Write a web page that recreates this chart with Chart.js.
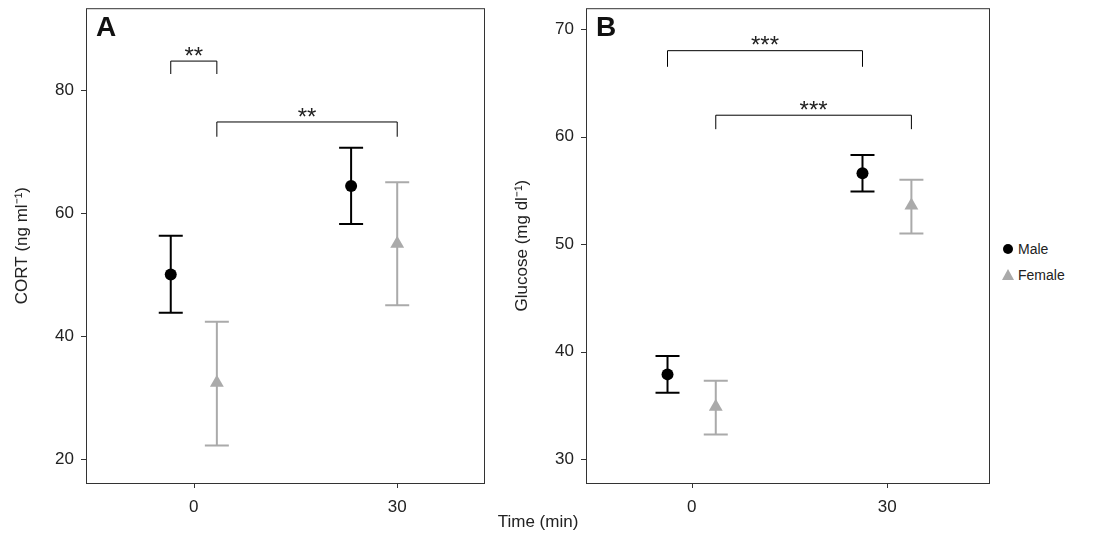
<!DOCTYPE html>
<html>
<head>
<meta charset="UTF-8">
<script src="https://cdn.jsdelivr.net/npm/chart.js"></script>
<style>
  body { margin:0; background:#fff; font-family: "Liberation Sans", Arial, sans-serif; overflow:hidden; }
  .box { position:absolute; top:-6px; height:519px; }
  #legend { position:absolute; left:1000px; top:236px; font-size:14px; color:#222; }
  #legend div { height:26px; display:flex; align-items:center; }
  #xtitle { position:absolute; left:0; width:1076px; top:512px; text-align:center; font-size:17px; color:#222; }
</style>
</head>
<body>
<div class="box" style="left:0;width:492px"><canvas id="cA"></canvas></div>
<div class="box" style="left:500px;width:497px"><canvas id="cB"></canvas></div>
<div id="xtitle">Time (min)</div>
<div id="legend">
  <div><svg width="18" height="14"><circle cx="8" cy="7" r="5" fill="#000"/></svg>Male</div>
  <div><svg width="18" height="14"><polygon points="8,1 14,12 2,12" fill="#aaa"/></svg>Female</div>
</div>
<script>
// panel A: CORT
const aMaleX = [-3.4, 23.2];
const aMale = [50, 64.4];
const aMaleLo = [43.8, 58.2];
const aMaleHi = [56.3, 70.6];
const aFemaleX = [3.4, 30];
const aFemale = [32.4, 55];
const aFemaleLo = [22.2, 45];
const aFemaleHi = [42.3, 65];
const aBrackets = [[-3.4, 3.4, 84.7, 82.6, '**'], [3.4, 30, 74.8, 72.4, '**']];

// panel B: glucose
const bMaleX = [-3.7, 26.2];
const bMale = [37.9, 56.6];
const bMaleLo = [36.2, 54.9];
const bMaleHi = [39.6, 58.3];
const bFemaleX = [3.7, 33.7];
const bFemale = [34.9, 53.6];
const bFemaleLo = [32.3, 51];
const bFemaleHi = [37.3, 56];
const bBrackets = [[-3.7, 26.2, 68.0, 66.5, '***'], [3.7, 33.7, 62.0, 60.7, '***']];

const xTicks = [0, 30];

function makeChart(id, cfg) {
  const bars = {
    id: 'bars',
    beforeDatasetsDraw(chart) {
      const c = chart.ctx, x = chart.scales.x, y = chart.scales.y, a = chart.chartArea;
      c.save();
      // error bars
      cfg.series.forEach(s => {
        c.strokeStyle = s.color; c.lineWidth = 2;
        s.x.forEach((xv, i) => {
          const px = x.getPixelForValue(xv), lo = y.getPixelForValue(s.lo[i]), hi = y.getPixelForValue(s.hi[i]);
          c.beginPath();
          c.moveTo(px, lo); c.lineTo(px, hi);
          c.moveTo(px - 12, lo); c.lineTo(px + 12, lo);
          c.moveTo(px - 12, hi); c.lineTo(px + 12, hi);
          c.stroke();
        });
      });
      // brackets
      c.strokeStyle = '#000'; c.lineWidth = 1; c.fillStyle = '#222';
      c.font = '24px "Liberation Sans", Arial'; c.textAlign = 'center'; c.textBaseline = 'bottom';
      cfg.brackets.forEach(b => {
        const x1 = x.getPixelForValue(b[0]), x2 = x.getPixelForValue(b[1]);
        const yt = y.getPixelForValue(b[2]), yb = y.getPixelForValue(b[3]);
        c.beginPath();
        c.moveTo(x1, yb); c.lineTo(x1, yt); c.lineTo(x2, yt); c.lineTo(x2, yb);
        c.stroke();
        c.fillText(b[4], (x1 + x2) / 2, yt + 8);
      });
      // frame and tick marks
      c.lineWidth = 1; c.strokeStyle = '#333';
      c.strokeRect(a.left + 0.5, a.top + 0.5, a.right - a.left, a.bottom - a.top);
      c.beginPath();
      xTicks.forEach(v => { const p = Math.round(x.getPixelForValue(v)) + 0.5; c.moveTo(p, a.bottom); c.lineTo(p, a.bottom + 5); });
      cfg.yTicks.forEach(v => { const p = Math.round(y.getPixelForValue(v)) + 0.5; c.moveTo(a.left, p); c.lineTo(a.left - 5, p); });
      c.stroke();
      // panel letter
      c.font = 'bold 28px "Liberation Sans", Arial'; c.textAlign = 'left'; c.textBaseline = 'top';
      c.fillStyle = '#111';
      c.fillText(cfg.letter, a.left + 10, a.top + 6);
      c.restore();
    }
  };
  const datasets = cfg.series.map(s => ({
    label: s.name,
    data: s.x.map((xv, i) => ({ x: xv, y: s.y[i] })),
    pointStyle: s.style, pointRadius: s.r, pointHoverRadius: s.r,
    backgroundColor: s.color, borderColor: s.color, borderWidth: 0
  }));
  return new Chart(document.getElementById(id), {
    type: 'scatter',
    data: { datasets },
    options: {
      animation: false, responsive: false, devicePixelRatio: 1,
      layout: { padding: { top: -8, right: 7 } },
      plugins: { legend: { display: false }, tooltip: { enabled: false } },
      scales: {
        x: {
          min: cfg.xmin, max: cfg.xmax,
          grid: { display: false },
          border: { display: false },
          afterBuildTicks: ax => { ax.ticks = xTicks.map(v => ({ value: v })); },
          afterFit: ax => { ax.height = 30; },
          ticks: { color: '#222', font: { size: 17 }, padding: 6 }
        },
        y: {
          min: cfg.ymin, max: cfg.ymax,
          grid: { display: false },
          border: { display: false },
          afterBuildTicks: ax => { ax.ticks = cfg.yTicks.map(v => ({ value: v })); },
          afterFit: ax => { ax.width = 86; },
          ticks: { color: '#222', font: { size: 17 }, padding: 4 },
          title: { display: true, text: cfg.ytitle, color: '#222', font: { size: 17 }, padding: { top: 12, bottom: 4 } }
        }
      }
    },
    plugins: [bars]
  });
}

function setup(id, w) {
  const cv = document.getElementById(id); cv.width = w; cv.height = 519;
}
setup('cA', 492); setup('cB', 497);

makeChart('cA', {
  letter: 'A', ytitle: 'CORT (ng ml\u207B\u00B9)',
  xmin: -15.9, xmax: 42.8, ymin: 16.1, ymax: 93.3, yTicks: [20, 40, 60, 80],
  brackets: aBrackets,
  series: [
    { name: 'Male', x: aMaleX, y: aMale, lo: aMaleLo, hi: aMaleHi, color: '#000', style: 'circle', r: 6 },
    { name: 'Female', x: aFemaleX, y: aFemale, lo: aFemaleLo, hi: aFemaleHi, color: '#aaa', style: 'triangle', r: 8 }
  ]
});
makeChart('cB', {
  letter: 'B', ytitle: 'Glucose (mg dl\u207B\u00B9)',
  xmin: -16.2, xmax: 45.6, ymin: 27.8, ymax: 71.95, yTicks: [30, 40, 50, 60, 70],
  brackets: bBrackets,
  series: [
    { name: 'Male', x: bMaleX, y: bMale, lo: bMaleLo, hi: bMaleHi, color: '#000', style: 'circle', r: 6 },
    { name: 'Female', x: bFemaleX, y: bFemale, lo: bFemaleLo, hi: bFemaleHi, color: '#aaa', style: 'triangle', r: 8 }
  ]
});
</script>
</body>
</html>
